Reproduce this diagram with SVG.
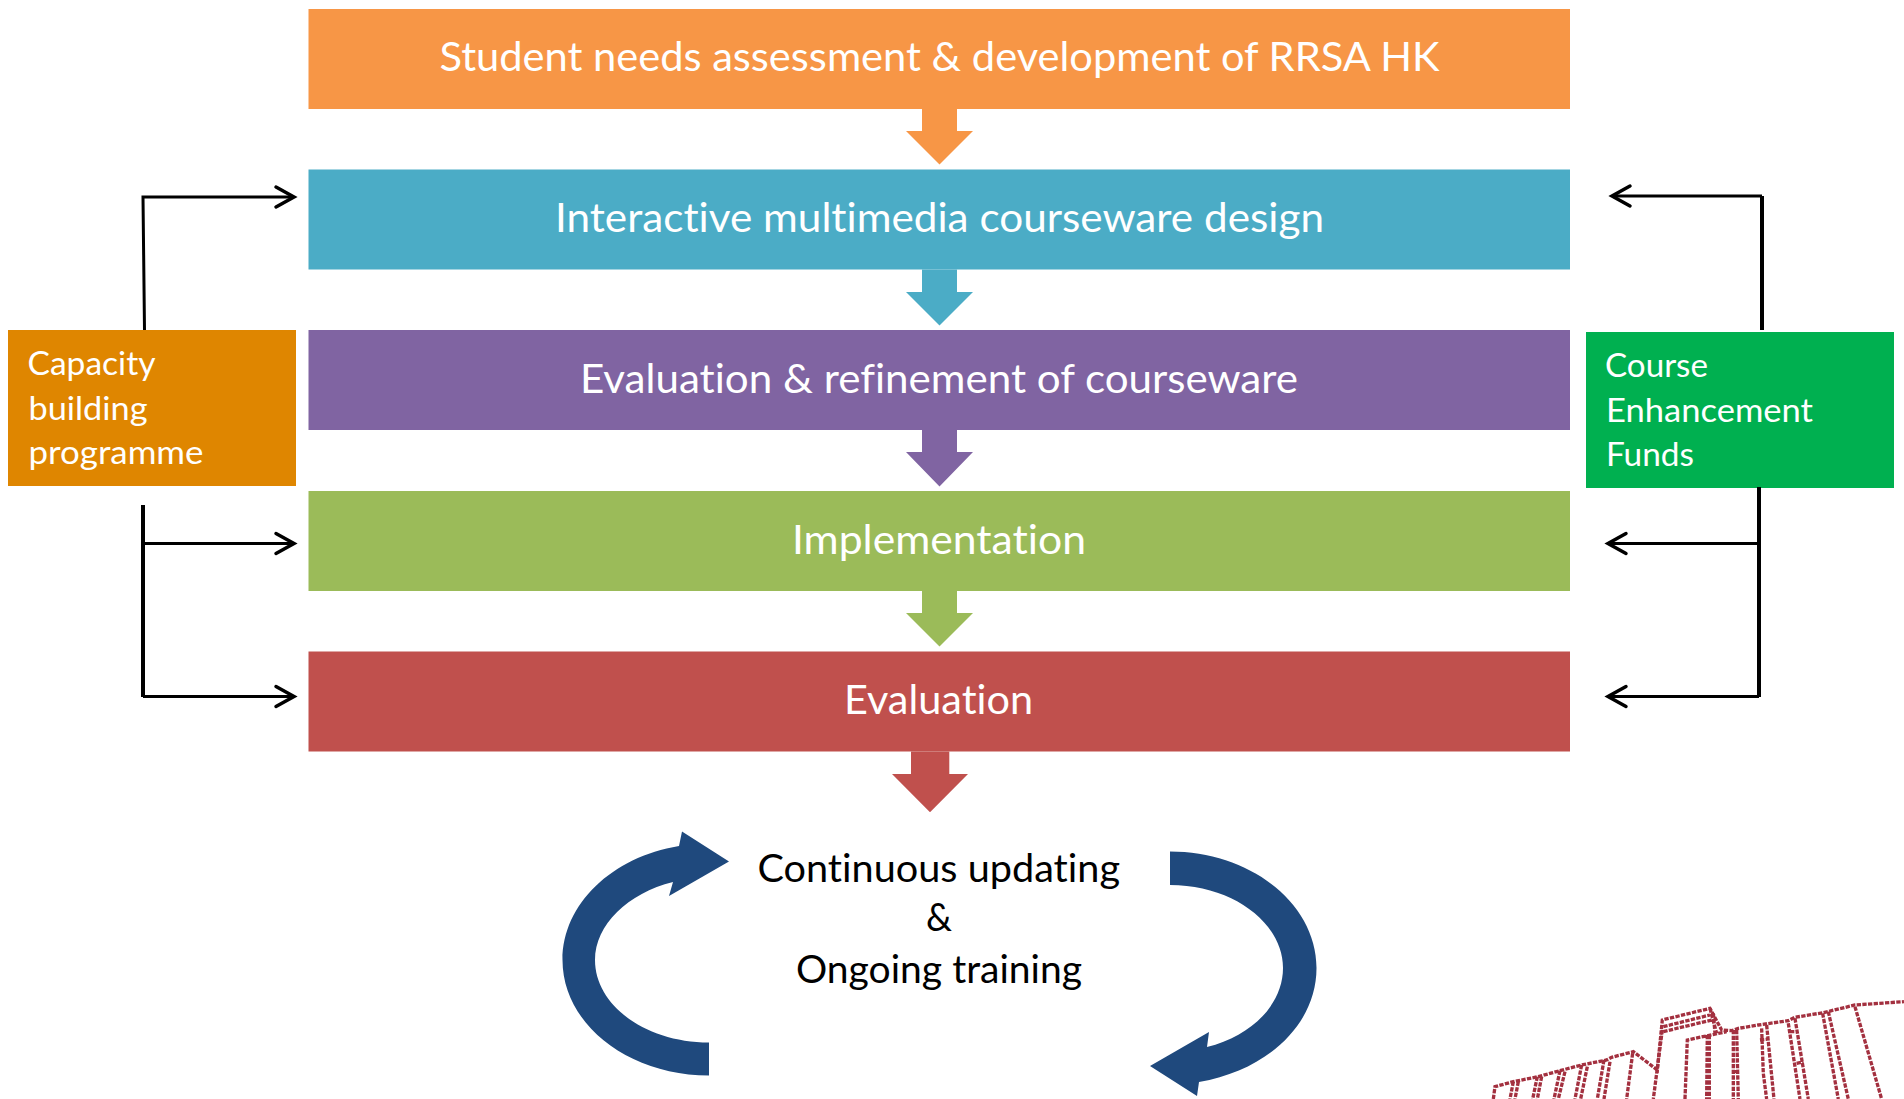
<svg xmlns="http://www.w3.org/2000/svg" width="1904" height="1099" viewBox="0 0 1904 1099">
<style>
text{font-family:Lato,"Noto Sans",sans-serif;font-variant-ligatures:none}
.m{font-size:40px;fill:#fff}
.s{font-size:33px;fill:#fff}
.k{font-size:38px;fill:#000}
.c{fill:none;stroke:#000;stroke-width:3}
.v{fill:none;stroke:#000;stroke-width:4}
.h{fill:none;stroke:#000;stroke-width:3.500;stroke-linecap:round;stroke-linejoin:miter}
.b{fill:none;stroke:#a3303f;stroke-width:10;stroke-dasharray:13 4}
.n{fill:#1f497d}
</style>
<rect width="1904" height="1099" fill="#fff"/>
<g id="node-needs"><rect x="308.500" y="9" width="1261.500" height="100" fill="#f79646"/><path d="M922 109V131H906L939.500 164.500L973 131H957V109Z" fill="#f79646"/><text class="m" x="439.500" y="71" textLength="1000" lengthAdjust="spacingAndGlyphs">Student needs assessment &amp; development of RRSA HK</text></g>
<g id="node-design"><rect x="308.500" y="169.500" width="1261.500" height="100" fill="#4bacc6"/><path d="M922 269.500V292H906L939.500 325.500L973 292H957V269.500Z" fill="#4bacc6"/><text class="m" x="555" y="232" textLength="769" lengthAdjust="spacingAndGlyphs">Interactive multimedia courseware design</text></g>
<g id="node-refine"><rect x="308.500" y="330" width="1261.500" height="100" fill="#8064a2"/><path d="M922 430V452H906L939.500 486.500L973 452H957V430Z" fill="#8064a2"/><text class="m" x="580" y="393" textLength="718" lengthAdjust="spacingAndGlyphs">Evaluation &amp; refinement of courseware</text></g>
<g id="node-implementation"><rect x="308.500" y="491" width="1261.500" height="100" fill="#9bbb59"/><path d="M922 591V613H906L939.500 646.500L973 613H957V591Z" fill="#9bbb59"/><text class="m" x="792" y="554" textLength="294" lengthAdjust="spacingAndGlyphs">Implementation</text></g>
<g id="node-evaluation"><rect x="308.500" y="651.500" width="1261.500" height="100" fill="#c0504d"/><path d="M911 751.500V774H892L930 812.300L968 774H949.300V751.500Z" fill="#c0504d"/><text class="m" x="844" y="713.500" textLength="189" lengthAdjust="spacingAndGlyphs">Evaluation</text></g>
<g id="node-capacity"><rect x="8" y="330" width="288" height="156" fill="#df8600"/><text class="s" x="27.500" y="375" textLength="128" lengthAdjust="spacingAndGlyphs">Capacity</text><text class="s" x="28.500" y="419.500" textLength="119" lengthAdjust="spacingAndGlyphs">building</text><text class="s" x="28.500" y="464" textLength="175" lengthAdjust="spacingAndGlyphs">programme</text></g>
<g id="node-funds"><rect x="1586" y="332" width="308" height="156" fill="#00b050"/><text class="s" x="1605" y="377" textLength="103" lengthAdjust="spacingAndGlyphs">Course</text><text class="s" x="1606" y="422" textLength="207" lengthAdjust="spacingAndGlyphs">Enhancement</text><text class="s" x="1606" y="466" textLength="88" lengthAdjust="spacingAndGlyphs">Funds</text></g>
<g id="node-updating"><text class="k" x="757.500" y="881.500" textLength="362.500" lengthAdjust="spacingAndGlyphs">Continuous updating</text><text class="k" x="926" y="931" textLength="26" lengthAdjust="spacingAndGlyphs">&amp;</text><text class="k" x="796" y="983" textLength="286" lengthAdjust="spacingAndGlyphs">Ongoing training</text></g>
<g id="connectors">
<path class="c" d="M144.500 330L143 197H293"/><path class="h" d="M276 187L294 197L276 207"/>
<path class="v" d="M143 505V697"/><path class="c" d="M143 543.500H293M143 696.500H293"/><path class="h" d="M276 533.500L294 543.500L276 553.500M276 686.500L294 696.500L276 706.500"/>
<path class="v" d="M1762 330V196"/><path class="c" d="M1762 196H1612"/><path class="h" d="M1630 186L1612 196L1630 206"/>
<path class="v" d="M1759 487V697"/><path class="c" d="M1759 543.500H1608M1759 696.500H1608"/><path class="h" d="M1626 533.500L1608 543.500L1626 553.500M1626 686.500L1608 696.500L1626 706.500"/>
</g>
<g id="cycle-left"><path class="n" d="M709 1075.500C628 1075.500 562.500 1024 562.500 960C562.500 904 612 857 679 846L682 831.500L729 861.500L669 896L673 882C628 893 595 925 595 960C595 1005 645 1042.500 709 1042.500Z"/></g>
<g id="cycle-right"><path class="n" d="M1170 851.500C1250 851.500 1316.500 903 1316.500 968C1316.500 1024 1268 1070 1199 1082L1197 1096L1150 1066L1209 1032L1207 1047C1252 1036 1283 1004 1283 968C1283 923 1233 885 1170 885Z"/></g>
<g id="building" transform="translate(1450 980) scale(.3333)" class="b">
<path d="M130 357L135 320L190 305L265 290L330 272L395 255L470 240L485 232L550 215L622 270L637 120L780 85L815 150L845 152L865 145L925 135L1015 122L1035 112L1120 98L1215 75L1362 65"/>
<path d="M190 305L180 357M205 305L195 357M262 290L248 357M275 290L262 357M330 272L312 357M345 275L325 357M395 255L375 357M412 260L392 357M462 240L442 357M480 245L462 357M548 220L530 357M637 150L610 357"/>
<path d="M640 140L780 105M640 155L785 120M780 85L800 160M790 100L795 160M705 357L712 180L830 155M772 165L770 357M778 165L778 357"/>
<path d="M850 150L850 357M860 150L865 357M845 275L865 275M935 145L940 280L950 357M950 135L972 357M930 180L950 178"/>
<path d="M1015 130L1050 357M1035 115L1075 357M1020 155L1040 155M1040 250L1060 245M1118 100L1165 357M1135 95L1195 357M1215 80L1295 357"/>
</g>
</svg>
